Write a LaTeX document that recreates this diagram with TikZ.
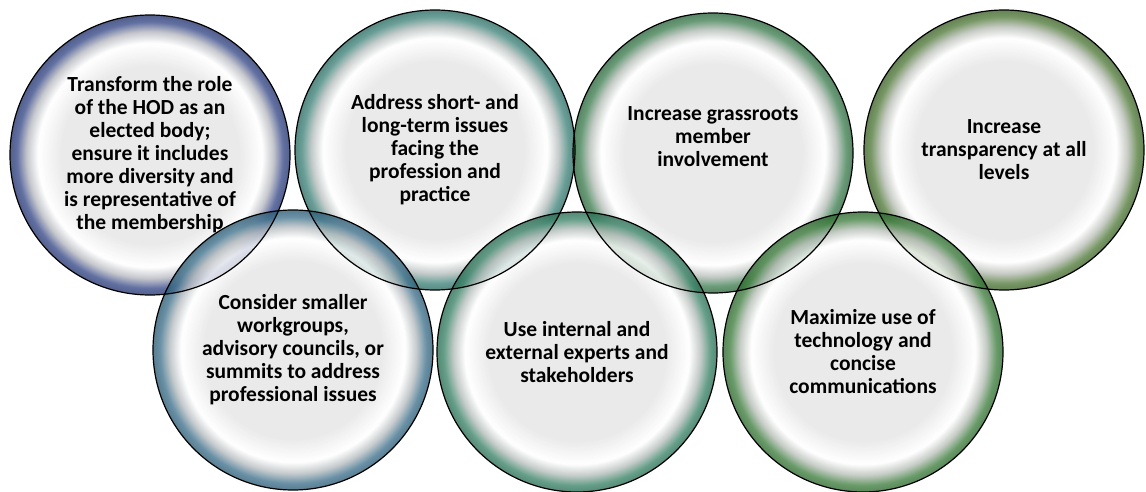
\documentclass[tikz,border=0pt]{standalone}
\usepackage{fontspec}
\setmainfont{Carlito}
\definecolor{hodblue}{RGB}{50,70,140}
\definecolor{issueteal}{RGB}{60,135,125}
\definecolor{rootgreen}{RGB}{60,130,80}
\definecolor{levelgreen}{RGB}{80,125,55}
\definecolor{groupblue}{RGB}{60,115,145}
\definecolor{expertteal}{RGB}{55,135,105}
\definecolor{techgreen}{RGB}{60,130,60}
\colorlet{bubblecore}{gray!20}
\colorlet{bubblerim}{hodblue}
\pgfdeclareradialshading[bubblerim]{bubble}{\pgfpoint{0bp}{0bp}}{%
  color(0bp)=(bubblecore); color(16bp)=(bubblecore); color(20bp)=(white);
  color(22bp)=(bubblerim!20!gray!50!white); color(23.8bp)=(bubblerim!90!gray);
  color(25bp)=(bubblerim!80!black); color(50bp)=(bubblerim!80!black)}
\begin{document}
\begin{tikzpicture}[x=1pt, y=-1pt,
    caption/.style={align=center, text opacity=1,
      font=\fontsize{21.5}{23}\selectfont\bfseries},
    bubble/.style={circle, minimum size=280pt, inner sep=0pt, shade, shading=bubble,
      fill opacity=0.8, caption},
    rim/.code={\colorlet{bubblerim}{#1}}]
  \useasboundingbox (0,0) rectangle (1146,492);
  % top row
  \node[bubble, rim=hodblue] (hod) at (150,155) {Transform the role\\of the HOD as an\\elected body;\\ensure it includes\\more diversity and\\is representative of\\the membership};
  \node[bubble, rim=issueteal] (issues) at (435,150) {Address short- and\\long-term issues\\facing the\\profession and\\practice};
  \node[bubble, rim=rootgreen, label={[caption, yshift=16pt]center:{Increase grassroots\\member\\involvement}}] (grassroots) at (713,153) {};
  \node[bubble, rim=levelgreen] (transparency) at (1004,150) {Increase\\transparency at all\\levels};
  % bottom row
  \node[bubble, rim=groupblue] (workgroups) at (293,350) {Consider smaller\\workgroups,\\advisory councils, or\\summits to address\\professional issues};
  \node[bubble, rim=expertteal] (experts) at (577,352) {Use internal and\\external experts and\\stakeholders};
  \node[bubble, rim=techgreen] (technology) at (863,352) {Maximize use of\\technology and\\concise\\communications};
  % outlines over the overlaps
  \foreach \n in {hod,issues,grassroots,transparency,workgroups,experts,technology}
    \draw[line width=1.2pt] (\n.center) circle[radius=140pt];
\end{tikzpicture}
\end{document}
